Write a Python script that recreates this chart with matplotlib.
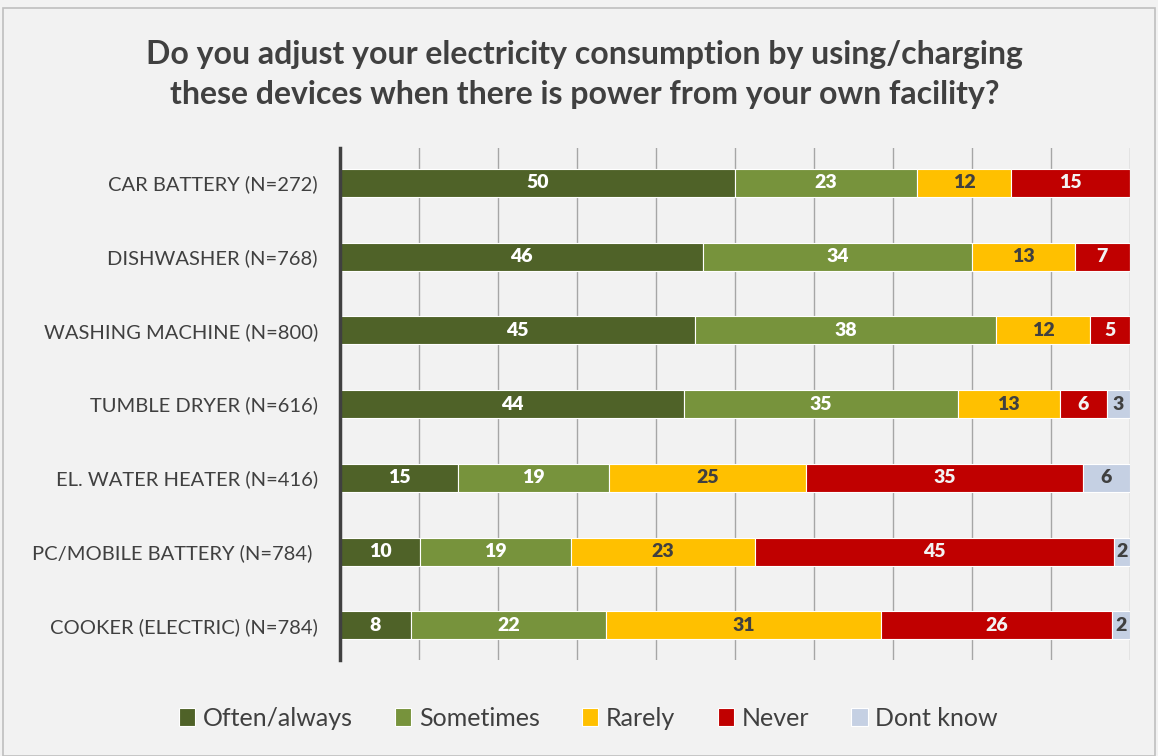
import numpy as np
import matplotlib.pyplot as plt
from matplotlib.patches import Rectangle

plt.rcParams['font.family'] = ['Lato', 'DejaVu Sans']

categories = ['CAR BATTERY (N=272)', 'DISHWASHER (N=768)', 'WASHING MACHINE (N=800)',
              'TUMBLE DRYER (N=616)', 'EL. WATER HEATER (N=416)',
              'PC/MOBILE BATTERY (N=784) ', 'COOKER (ELECTRIC) (N=784)']
often = [50, 46, 45, 44, 15, 10, 8]
sometimes = [23, 34, 38, 35, 19, 19, 22]
rarely = [12, 13, 12, 13, 25, 23, 31]
never = [15, 7, 5, 6, 35, 45, 26]
dont_know = [0, 0, 0, 3, 6, 2, 2]

series = ['Often/always', 'Sometimes', 'Rarely', 'Never', 'Dont know']
colors = ['#4F6228', '#77933C', '#FFC000', '#C00000', '#C5D0E3']
label_colors = ['white', 'white', '#404040', '#F2F2F2', '#404040']

data = np.array([often, sometimes, rarely, never, dont_know], dtype=float)
shares = data / data.sum(axis=0) * 100

bg = '#F2F2F2'
fig = plt.figure(figsize=(11.58, 7.56), dpi=100, facecolor=bg)
fig.patches.append(Rectangle((0.003, 0.0), 0.994, 0.99, transform=fig.transFigure,
                             fill=False, edgecolor='#BFBFBF', linewidth=1.2))
ax = fig.add_axes([0.2936, 0.127, 0.6822, 0.677])
ax.set_facecolor(bg)

y = np.arange(len(categories))
left = np.zeros(len(categories))
for i, name in enumerate(series):
    bars = ax.barh(y, shares[i], left=left, height=0.38, color=colors[i],
                   edgecolor='white', linewidth=0.8, label=name, zorder=3)
    for j, b in enumerate(bars):
        if data[i, j] > 0:
            ax.text(left[j] + shares[i, j] / 2, y[j], f"{int(data[i, j])}",
                    ha='center', va='center', color=label_colors[i],
                    fontsize=14, fontweight='heavy', zorder=4)
    left += shares[i]

ax.set_xlim(0, 100)
ax.set_ylim(6.47, -0.47)
ax.set_xticks(np.arange(0, 101, 10))
ax.xaxis.grid(True, color='#A6A6A6', linewidth=1.0, zorder=0)
ax.tick_params(axis='x', length=0, labelbottom=False)
ax.set_yticks(y)
ax.set_yticklabels(categories, fontsize=14.5, color='#404040')
ax.tick_params(axis='y', length=0, pad=16)
for s in ['top', 'right', 'bottom']:
    ax.spines[s].set_visible(False)
ax.spines['left'].set_color('#404040')
ax.spines['left'].set_linewidth(2.5)
ax.spines['left'].set_zorder(5)

fig.text(0.505, 0.901, 'Do you adjust your electricity consumption by using/charging\n'
         'these devices when there is power from your own facility?',
         ha='center', va='center', fontsize=23, fontweight='bold', color='#404040',
         linespacing=1.45)

fig.legend(loc='center', bbox_to_anchor=(0.508, 0.05), ncol=5, frameon=False,
           fontsize=18, handlelength=0.65, handleheight=0.7, handletextpad=0.3,
           columnspacing=1.7, labelcolor='#404040')

fig.savefig('out.png', dpi=100, facecolor=bg)
